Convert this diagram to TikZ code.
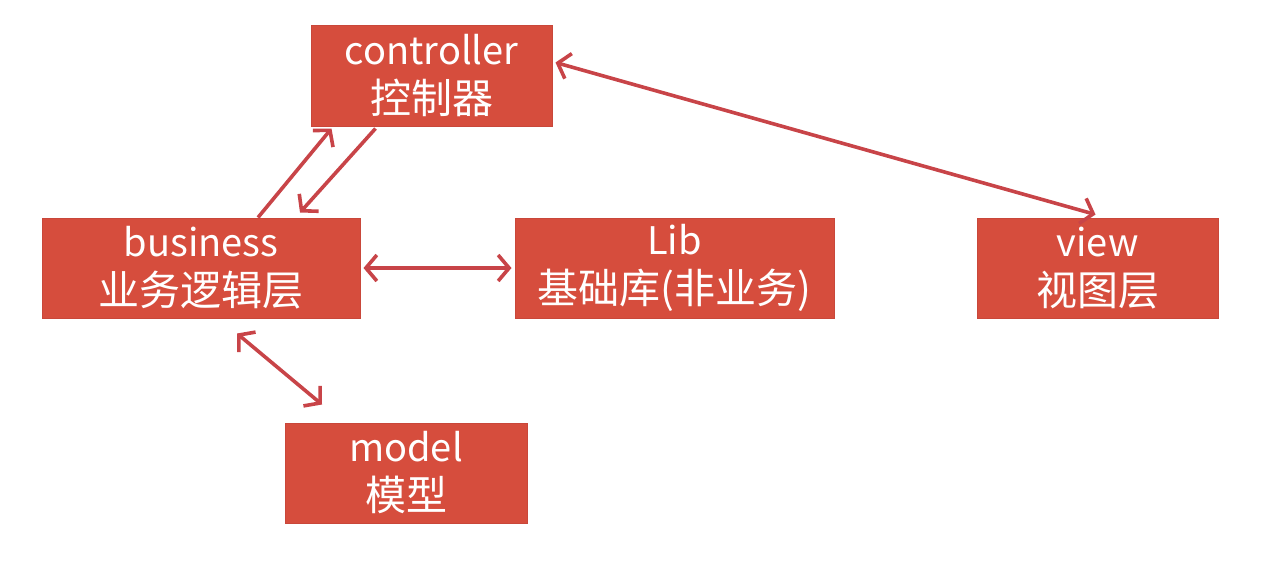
\documentclass[tikz,border=0pt]{standalone}
\usepackage{fontspec}
\setmainfont{Noto Sans CJK SC}
\usetikzlibrary{arrows.meta}
\definecolor{boxred}{HTML}{D64D3D}
\definecolor{boxedge}{HTML}{C9473A}
\definecolor{arrred}{HTML}{C84448}
\newcommand{\latinline}[1]{{\fontsize{38}{49}\selectfont #1}}
\tikzset{
  box/.style={rectangle, fill=boxred, draw=boxedge, line width=1pt, text=white,
    align=center, inner sep=0pt, font=\fontsize{41}{49}\selectfont},
  link/.style={draw=arrred, line width=3.6pt, -{Straight Barb[length=11pt,width=26pt,line width=3.6pt]}},
  dlink/.style={draw=arrred, line width=3.6pt, {Straight Barb[length=11pt,width=26pt,line width=3.6pt]}-{Straight Barb[length=11pt,width=26pt,line width=3.6pt]}}
}
\begin{document}
\begin{tikzpicture}[x=1pt,y=-1pt]
\useasboundingbox (0,0) rectangle (1266,566);
\node[box, minimum width=241pt, minimum height=101pt] (ctrl) at (431.5,75.5) {\latinline{controller}\\控制器};
\node[box, minimum width=318pt, minimum height=100pt] (bus) at (201,268) {\latinline{business}\\业务逻辑层};
\node[box, minimum width=319pt, minimum height=100pt] (lib) at (674.5,268) {\latinline{Lib}\\基础库(非业务)};
\node[box, minimum width=241pt, minimum height=100pt] (view) at (1097.5,268) {\latinline{view}\\视图层};
\node[box, minimum width=242pt, minimum height=100pt] (model) at (406,473) {\latinline{model}\\模型};
\draw[link] ([xshift=57pt]bus.north) -- ([xshift=-100pt,yshift=-2pt]ctrl.south);
\draw[link] ([xshift=-56pt,yshift=-2pt]ctrl.south) -- ([xshift=99pt,yshift=5pt]bus.north);
\draw[dlink] ([xshift=3pt]bus.east) -- ([xshift=-3pt]lib.west);
\draw[dlink] ([xshift=3pt,yshift=13pt]ctrl.east) -- ([xshift=-2pt,yshift=3pt]view.north);
\draw[dlink] ([xshift=36pt,yshift=-15pt]bus.south) -- ([xshift=-84pt,yshift=18pt]model.north);
\end{tikzpicture}
\end{document}
